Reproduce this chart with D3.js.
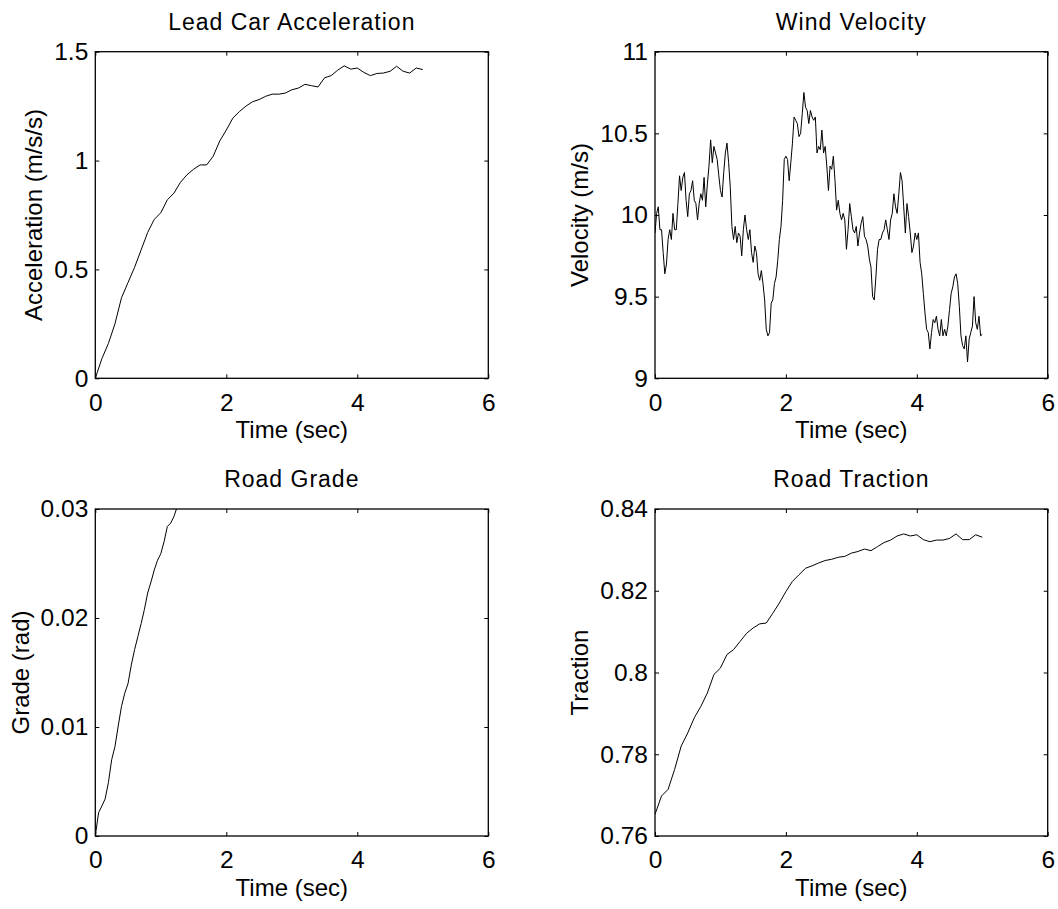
<!DOCTYPE html>
<html>
<head>
<meta charset="utf-8">
<script src="https://cdn.jsdelivr.net/npm/d3@7"></script>
<style>
  body { margin: 0; background: #fff; }
  svg { display: block; font-family: "Liberation Sans", Arial, Helvetica, sans-serif; }
</style>
</head>
<body>
<svg id="fig" width="1058" height="909"></svg>
<script>
// values
var xTicks = [0, 2, 4, 6];

// lead car acceleration, sampled every 0.1 s
var accelStep = 0.1;
var accelValues = [0, 0.09, 0.16, 0.25, 0.37, 0.44, 0.51, 0.59, 0.67, 0.73, 0.76,
  0.82, 0.85, 0.9, 0.935, 0.96, 0.98, 0.98, 1.02, 1.09, 1.14,
  1.195, 1.225, 1.25, 1.27, 1.28, 1.295, 1.305, 1.305, 1.31, 1.325,
  1.333, 1.35, 1.344, 1.338, 1.38, 1.39, 1.415, 1.435, 1.42, 1.425,
  1.405, 1.39, 1.4, 1.402, 1.41, 1.433, 1.41, 1.402, 1.425, 1.418];
var accelTicks = [0, 0.5, 1, 1.5];
var accelTickLabels = ["0", "0.5", "1", "1.5"];

// wind velocity, sampled every 0.025 s
var windStep = 0.025;
var windValues = [9.89, 10.01, 10.05, 9.91, 9.91, 9.77, 9.64, 9.70, 9.85, 9.91,
  9.85, 10.01, 9.91, 9.91, 10.07, 10.24, 10.15, 10.23, 10.26, 10.09,
  9.99, 10.13, 10.15, 10.21, 10.09, 10.07, 9.97, 10.07, 10.13, 10.09,
  10.23, 10.05, 10.19, 10.30, 10.46, 10.32, 10.42, 10.38, 10.34, 10.24,
  10.15, 10.11, 10.26, 10.38, 10.44, 10.32, 10.17, 9.93, 9.85, 9.93,
  9.83, 9.89, 9.87, 9.75, 9.91, 10.00, 9.91, 9.85, 9.91, 9.77,
  9.71, 9.81, 9.77, 9.64, 9.60, 9.66, 9.58, 9.48, 9.30, 9.26,
  9.28, 9.46, 9.48, 9.58, 9.62, 9.72, 9.85, 9.93, 10.09, 10.34,
  10.36, 10.34, 10.21, 10.32, 10.44, 10.60, 10.58, 10.56, 10.48, 10.50,
  10.62, 10.75, 10.66, 10.64, 10.56, 10.64, 10.60, 10.58, 10.60, 10.38,
  10.42, 10.40, 10.52, 10.38, 10.42, 10.30, 10.15, 10.30, 10.28, 10.36,
  10.21, 10.03, 10.09, 10.01, 9.97, 10.01, 9.97, 9.79, 9.91, 10.07,
  9.99, 9.91, 9.89, 9.93, 9.81, 9.89, 9.95, 9.99, 9.87, 9.85,
  9.81, 9.73, 9.68, 9.50, 9.48, 9.62, 9.79, 9.85, 9.85, 9.89,
  9.91, 9.97, 9.91, 9.85, 9.97, 10.01, 10.13, 10.05, 10.01, 10.13,
  10.26, 10.21, 10.05, 9.89, 10.07, 9.99, 9.89, 9.77, 9.81, 9.89,
  9.85, 9.89, 9.71, 9.64, 9.52, 9.40, 9.30, 9.28, 9.18, 9.28,
  9.36, 9.34, 9.38, 9.30, 9.26, 9.36, 9.26, 9.30, 9.26, 9.32,
  9.42, 9.52, 9.56, 9.62, 9.64, 9.58, 9.44, 9.26, 9.20, 9.18,
  9.26, 9.10, 9.24, 9.28, 9.32, 9.50, 9.34, 9.30, 9.38, 9.26, 9.27];
var windTicks = [9, 9.5, 10, 10.5, 11];
var windTickLabels = ["9", "9.5", "10", "10.5", "11"];

// road grade, sampled every 0.05 s (leaves the axes at the top)
var gradeStep = 0.05;
var gradeValues = [0, 0.00214, 0.00275, 0.0034, 0.0049, 0.007, 0.0082, 0.0101, 0.0119, 0.0131,
  0.014, 0.0157, 0.0171, 0.0183, 0.0195, 0.0208, 0.0223, 0.0233, 0.0244, 0.0253,
  0.0259, 0.027, 0.0284, 0.0287, 0.0293, 0.0302, 0.0312];
var gradeTicks = [0, 0.01, 0.02, 0.03];
var gradeTickLabels = ["0", "0.01", "0.02", "0.03"];

// road traction, sampled every 0.1 s
var tractionStep = 0.1;
var tractionValues = [0.7653, 0.7698, 0.7714, 0.7763, 0.782, 0.7852, 0.7889, 0.7917, 0.795, 0.7995, 0.8011,
  0.8044, 0.8056, 0.8076, 0.8096, 0.8109, 0.8119, 0.8121, 0.8145, 0.817, 0.8198,
  0.8223, 0.8239, 0.8255, 0.8261, 0.8268, 0.8274, 0.8277, 0.8282, 0.8284, 0.8292,
  0.8296, 0.8302, 0.8298, 0.8308, 0.8318, 0.8324, 0.8334, 0.8339, 0.8334, 0.8337,
  0.8325, 0.832, 0.8324, 0.8324, 0.8328, 0.8339, 0.8325, 0.8325, 0.8337, 0.8331];
var tractionTicks = [0.76, 0.78, 0.8, 0.82, 0.84];
var tractionTickLabels = ["0.76", "0.78", "0.8", "0.82", "0.84"];

var svg = d3.select("#fig");
svg.append("rect").attr("width", 1058).attr("height", 909).attr("fill", "#fff");

function makePanel(id, box, title, ylabel, values, step, yTicks, yTickLabels){
	var x = d3.scaleLinear().domain([0, 6]).range([box.left, box.right]);
	var y = d3.scaleLinear().domain([yTicks[0], yTicks[yTicks.length - 1]]).range([box.bottom, box.top]);

	var pts = values.map(function(v, i){ return {t: i * step, v: v}; });

	svg.append("clipPath").attr("id", "clip" + id)
		.append("rect")
		.attr("x", box.left).attr("y", box.top)
		.attr("width", box.right - box.left).attr("height", box.bottom - box.top);

	var line = d3.line()
		.x(function(d){ return x(d.t); })
		.y(function(d){ return y(d.v); });

	svg.append("path")
		.datum(pts)
		.attr("clip-path", "url(#clip" + id + ")")
		.attr("fill", "none")
		.attr("stroke", "#000")
		.attr("stroke-width", 1)
		.attr("stroke-linejoin", "round")
		.attr("d", line);

	// ticks point inward on all four sides
	svg.append("g").attr("transform", "translate(0," + box.bottom + ")")
		.call(d3.axisBottom(x).tickValues(xTicks).tickSize(-4).tickPadding(15).tickFormat(d3.format("d")));
	svg.append("g").attr("transform", "translate(0," + box.top + ")")
		.call(d3.axisTop(x).tickValues(xTicks).tickSize(-4).tickFormat(""));
	var gl = svg.append("g").attr("transform", "translate(" + box.left + ",0)")
		.call(d3.axisLeft(y).tickValues(yTicks).tickSize(-4).tickPadding(7)
			.tickFormat(function(d, i){ return yTickLabels[i]; }));
	svg.append("g").attr("transform", "translate(" + box.right + ",0)")
		.call(d3.axisRight(y).tickValues(yTicks).tickSize(-4).tickFormat(""));

	svg.selectAll(".domain").remove();
	svg.selectAll(".tick line").attr("stroke", "#000").attr("stroke-width", 1);
	svg.selectAll(".tick text").attr("font-size", 24.5).attr("fill", "#000")
		.attr("font-family", "'Liberation Sans', Arial, Helvetica, sans-serif");

	svg.append("rect")
		.attr("x", box.left).attr("y", box.top)
		.attr("width", box.right - box.left).attr("height", box.bottom - box.top)
		.attr("fill", "none").attr("stroke", "#000").attr("stroke-width", 1.3);

	var cx = (box.left + box.right) / 2;
	svg.append("text")
		.attr("x", cx).attr("y", box.top - 21.7)
		.attr("text-anchor", "middle")
		.attr("font-size", 23)
		.attr("letter-spacing", "1px")
		.text(title);

	svg.append("text")
		.attr("x", cx).attr("y", box.bottom + 60)
		.attr("text-anchor", "middle")
		.attr("font-size", 24)
		.text("Time (sec)");

	// y label sits just left of the widest tick label
	var minX = d3.min(gl.selectAll(".tick text").nodes(), function(n){ return n.getBBox().x; }) + box.left;
	svg.append("text")
		.attr("transform", "translate(" + (minX - 12) + "," + ((box.top + box.bottom) / 2) + ") rotate(-90)")
		.attr("text-anchor", "middle")
		.attr("font-size", 24)
		.text(ylabel);
}

makePanel("a", {left: 95.3, right: 488.3, top: 51.7, bottom: 378.3}, "Lead Car Acceleration", "Acceleration (m/s/s)", accelValues, accelStep, accelTicks, accelTickLabels);
makePanel("b", {left: 655, right: 1047.7, top: 51.7, bottom: 378.3}, "Wind Velocity", "Velocity (m/s)", windValues, windStep, windTicks, windTickLabels);
makePanel("c", {left: 95.3, right: 488.3, top: 509, bottom: 836}, "Road Grade", "Grade (rad)", gradeValues, gradeStep, gradeTicks, gradeTickLabels);
makePanel("d", {left: 655, right: 1047.7, top: 509, bottom: 836}, "Road Traction", "Traction", tractionValues, tractionStep, tractionTicks, tractionTickLabels);
</script>
</body>
</html>
